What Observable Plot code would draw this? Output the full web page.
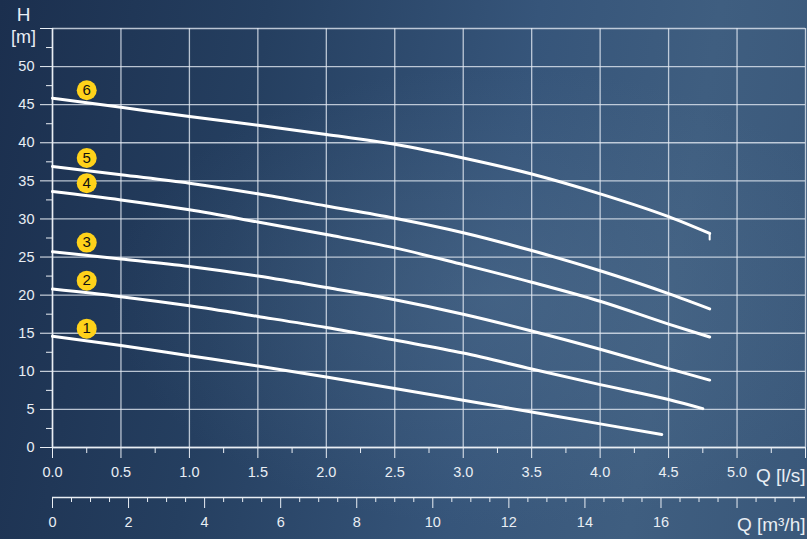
<!DOCTYPE html>
<html><head><meta charset="utf-8">
<script src="https://cdn.jsdelivr.net/npm/d3@7"></script>
<script src="https://cdn.jsdelivr.net/npm/@observablehq/plot@0.6"></script>
<style>
html,body{margin:0;padding:0;}
body{width:807px;height:539px;overflow:hidden;
background:
 radial-gradient(ellipse at 62% 55%, rgba(90,120,150,0.35) 0%, rgba(90,120,150,0) 55%),
 linear-gradient(100deg, #1b2f4e 0%, #253f60 30%, #36557a 60%, #3f5e80 80%, #3a587a 100%);}
#chart{position:absolute;left:0;top:0;}
#chart g[aria-label="x-axis tick label"], #chart g[aria-label="y-axis tick label"]{font-size:14.5px;}
</style></head><body><div id="chart"></div><script>
// Pump curves: Q [l/s] vs H [m]
const curve1Q = [0, 0.5, 1.0, 1.5, 2.0, 2.5, 3.0, 3.5, 4.0, 4.45];
const curve1H = [14.6, 13.4, 12.05, 10.7, 9.25, 7.75, 6.2, 4.65, 3.1, 1.7];
const curve2Q = [0, 0.5, 1.0, 1.5, 2.0, 2.5, 3.0, 3.5, 4.0, 4.5, 4.75];
const curve2H = [20.8, 19.8, 18.6, 17.2, 15.75, 14.1, 12.4, 10.3, 8.25, 6.3, 5.1];
const curve3Q = [0, 0.5, 1.0, 1.5, 2.0, 2.5, 3.0, 3.5, 4.0, 4.5, 4.8];
const curve3H = [25.7, 24.75, 23.75, 22.5, 21.0, 19.4, 17.5, 15.3, 12.9, 10.35, 8.85];
const curve4Q = [0, 0.5, 1.0, 1.5, 2.0, 2.5, 3.0, 3.5, 4.0, 4.5, 4.8];
const curve4H = [33.6, 32.5, 31.2, 29.6, 27.95, 26.2, 24.0, 21.7, 19.2, 16.2, 14.5];
const curve5Q = [0, 0.5, 1.0, 1.5, 2.0, 2.5, 3.0, 3.5, 4.0, 4.5, 4.8];
const curve5H = [36.9, 35.8, 34.7, 33.3, 31.7, 30.1, 28.2, 25.85, 23.2, 20.2, 18.2];
const curve6Q = [0, 0.5, 1.0, 1.5, 2.0, 2.5, 3.0, 3.5, 4.0, 4.5, 4.8];
const curve6H = [45.85, 44.65, 43.45, 42.3, 41.1, 39.8, 38.0, 35.9, 33.3, 30.3, 28.1];
const curve6TailQ = [4.8, 4.8];
const curve6TailH = [28.1, 27.3];

const curveIds = [1, 2, 3, 4, 5, 6];
const labelQ = [0.25, 0.25, 0.25, 0.25, 0.25, 0.25];
const labelH = [15.6, 21.9, 26.9, 34.7, 38.0, 46.9];

// Axis ticks
const xMajor = [0, 0.5, 1.0, 1.5, 2.0, 2.5, 3.0, 3.5, 4.0, 4.5, 5.0, 5.5];
const xMinor = [0.25, 0.75, 1.25, 1.75, 2.25, 2.75, 3.25, 3.75, 4.25, 4.75, 5.25];
const yMajor = [0, 5, 10, 15, 20, 25, 30, 35, 40, 45, 50, 55];
const yMinor = [2.5, 7.5, 12.5, 17.5, 22.5, 27.5, 32.5, 37.5, 42.5, 47.5, 52.5];
const m3hMajor = [0, 2, 4, 6, 8, 10, 12, 14, 16, 18];
const m3hLabelMax = 16;
const m3hMinorStep = 0.5;
const lsToM3h = 3.6;

const qs = [curve1Q, curve2Q, curve3Q, curve4Q, curve5Q, curve6Q];
const hs = [curve1H, curve2H, curve3H, curve4H, curve5H, curve6H];
const lineData = curveIds.flatMap((id, i) => qs[i].map((q, j) => ({curve: id, q, h: hs[i][j]})));
const tailData = curve6TailQ.map((q, j) => ({q, h: curve6TailH[j]}));
const labelData = curveIds.map((id, i) => ({curve: id, q: labelQ[i], h: labelH[i]}));
const m3hMinor = d3.range(0, 20, m3hMinorStep).filter(v => v % 2 !== 0);

const fg = "#e9eef4";
const gridC = "#e4ebf3";
const fs = 14.5;

const chart = Plot.plot({
  width: 807, height: 539,
  marginLeft: 52, marginRight: 2, marginTop: 28, marginBottom: 92,
  style: {background: "transparent", color: fg, fontSize: "14px", fontFamily: "'Liberation Sans', Arial, sans-serif", overflow: "visible"},
  x: {domain: [0, 5.5], label: null},
  y: {domain: [0, 55], label: null},
  marks: [
    Plot.gridX(xMajor, {stroke: gridC, strokeOpacity: 0.78, strokeWidth: 1.3}),
    Plot.gridY(yMajor, {stroke: gridC, strokeOpacity: 0.78, strokeWidth: 1.3}),
    Plot.ruleX([0], {stroke: fg, strokeWidth: 1.5}),
    Plot.ruleY([0], {stroke: fg, strokeWidth: 1.5}),
    Plot.axisY({ticks: yMajor, tickSize: 12, tickPadding: 6, label: null, fontSize: fs, tickFormat: d => d <= 50 ? String(d) : ""}),
    Plot.axisY({ticks: yMinor, tickSize: 6, label: null, tickFormat: () => ""}),
    Plot.axisX({ticks: xMajor, tickSize: 11, tickPadding: 8, label: null, fontSize: fs, tickFormat: d => d <= 5 ? d.toFixed(1) : ""}),
    Plot.axisX({ticks: xMinor, tickSize: 6, label: null, tickFormat: () => ""}),
    // secondary axis Q [m3/h]
    Plot.ruleY([0], {dy: 50, stroke: fg, strokeWidth: 1.5}),
    Plot.axisX({ticks: m3hMajor.map(v => v / lsToM3h), tickSize: 11, tickPadding: 8, dy: 50, label: null, fontSize: fs,
      tickFormat: d => { const v = Math.round(d * lsToM3h); return v <= m3hLabelMax ? String(v) : ""; }}),
    Plot.axisX({ticks: m3hMinor.map(v => v / lsToM3h), tickSize: 5, dy: 50, label: null, tickFormat: () => ""}),
    // curves
    Plot.line(lineData, {x: "q", y: "h", z: "curve", stroke: "white", strokeWidth: 3, curve: "monotone-x"}),
    Plot.line(tailData, {x: "q", y: "h", stroke: "white", strokeWidth: 2}),
    Plot.dot(labelData, {x: "q", y: "h", r: 10, fill: "#ffd21a", stroke: "none"}),
    Plot.text(labelData, {x: "q", y: "h", text: d => String(d.curve), fill: "#111", fontSize: 15}),
    // axis titles
    Plot.text(["H"], {text: d => d, frameAnchor: "top-left", textAnchor: "middle", lineAnchor: "middle", dx: -29, dy: -14, fontSize: 19, fill: fg}),
    Plot.text(["[m]"], {text: d => d, frameAnchor: "top-left", textAnchor: "middle", lineAnchor: "middle", dx: -29, dy: 9, fontSize: 18, fill: fg}),
    Plot.text(["Q [l/s]"], {text: d => d, frameAnchor: "bottom-right", textAnchor: "end", lineAnchor: "middle", dx: 0, dy: 28, fontSize: 19, fill: fg}),
    Plot.text(["Q [m³/h]"], {text: d => d, frameAnchor: "bottom-right", textAnchor: "end", lineAnchor: "middle", dx: 0, dy: 77, fontSize: 19, fill: fg})
  ]
});
document.getElementById("chart").appendChild(chart);
</script></body></html>
